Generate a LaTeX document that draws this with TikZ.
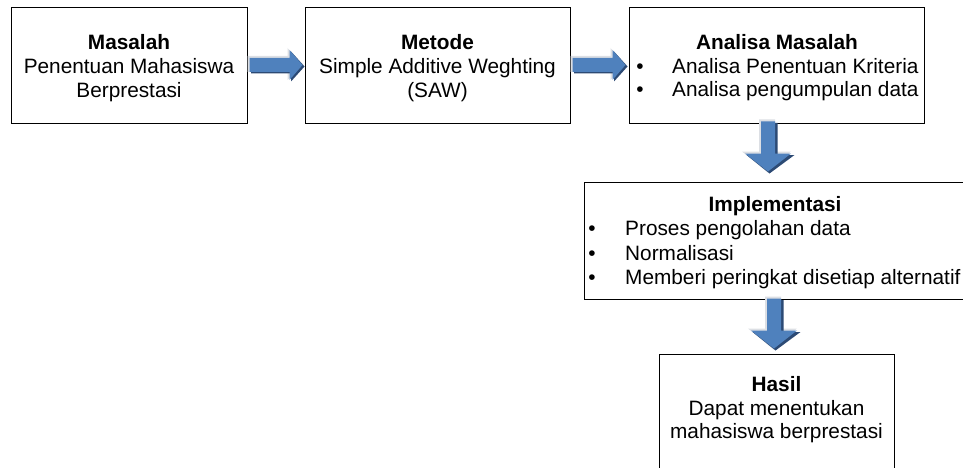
\documentclass[tikz,border=0pt]{standalone}
\usepackage{fontspec}
\setmainfont{Liberation Sans}
\definecolor{arrblue}{HTML}{4F81BD}
\definecolor{arrdark}{HTML}{2C4A74}
\definecolor{arrlight}{HTML}{DCDFE4}
\tikzset{
  x=1pt, y=-1pt,
  box/.style={draw=black, line width=1pt, fill=white},
  txt/.style={font=\fontsize{20.8}{24}\selectfont, inner sep=0pt},
  ttl/.style={font=\fontsize{20.8}{24}\selectfont\bfseries, inner sep=0pt},
  % bevelled block arrow pointing right, origin at the tail centre
  rightarrow/.pic={
    \fill[arrlight] (-2,-9) -- (38,-9) -- (38,-17) -- (54,0) -- (38,15) -- (38,7) -- (-2,7) -- cycle;
    \fill[arrdark] (1.5,-5.5) -- (41.5,-5.5) -- (41.5,-13.5) -- (55,1.5) -- (41.5,16.5) -- (41.5,8.5) -- (1.5,8.5) -- cycle;
    \fill[arrblue] (0,-7) -- (40,-7) -- (40,-15) -- (53,0) -- (40,15) -- (40,7) -- (0,7) -- cycle;
  },
  % bevelled block arrow pointing down, origin at the tail centre
  downarrow/.pic={
    \fill[arrlight] (-9,-2) -- (-9,30) -- (-26,30) -- (0,51) -- (23,30) -- (7,30) -- (7,-2) -- cycle;
    \fill[arrdark] (-5.5,1.5) -- (-5.5,33.5) -- (-21.5,33.5) -- (1.5,52) -- (26.5,33.5) -- (9.5,33.5) -- (9.5,1.5) -- cycle;
    \fill[arrblue] (-7,0) -- (-7,32) -- (-23,32) -- (0,50) -- (23,32) -- (7,32) -- (7,0) -- cycle;
  },
}
\begin{document}
\begin{tikzpicture}
\useasboundingbox (0,0) rectangle (963,468);

% boxes
\node[box, minimum width=236, minimum height=116] (masalah) at (129,66) {};
\node[box, minimum width=265, minimum height=116] (metode) at (437.5,66) {};
\node[box, minimum width=295, minimum height=116] (analisa) at (776.5,66) {};
\node[box, minimum width=382, minimum height=117] (impl) at (775,240.5) {};
\node[box, minimum width=235, minimum height=118] (hasil) at (776.5,413) {};

% box texts
\node[ttl, anchor=base] (t1a) at (129,50) {Masalah};
\node[txt, anchor=base] (t1b) at (129,74) {Penentuan Mahasiswa};
\node[txt, anchor=base] (t1c) at (129,98) {Berprestasi};

\node[ttl, anchor=base] (t2a) at (437.5,50) {Metode};
\node[txt, anchor=base] (t2b) at (437.5,74) {Simple Additive Weghting};
\node[txt, anchor=base] (t2c) at (437.5,98) {(SAW)};

\node[ttl, anchor=base] (t3a) at (777,50) {Analisa Masalah};
\node[txt, anchor=base] (b3a) at (640,74) {•};
\node[txt, anchor=base west] (t3b) at (672,74) {Analisa Penentuan Kriteria};
\node[txt, anchor=base] (b3b) at (640,97) {•};
\node[txt, anchor=base west] (t3c) at (672,97) {Analisa pengumpulan data};

\node[ttl, anchor=base] (t4a) at (775,211) {Implementasi};
\node[txt, anchor=base] (b4a) at (592,235.5) {•};
\node[txt, anchor=base west] (t4b) at (625,235.5) {Proses pengolahan data};
\node[txt, anchor=base] (b4b) at (592,260) {•};
\node[txt, anchor=base west] (t4c) at (625,260) {Normalisasi};
\node[txt, anchor=base] (b4c) at (592,284.5) {•};
\node[txt, anchor=base west] (t4d) at (625,284.5) {Memberi peringkat disetiap alternatif};

\node[ttl, anchor=base] (t5a) at (776.5,391) {Hasil};
\node[txt, anchor=base] (t5b) at (776.5,415) {Dapat menentukan};
\node[txt, anchor=base] (t5c) at (776.5,438) {mahasiswa berprestasi};

% block arrows between the boxes
\pic (a1) at ([xshift=2]masalah.east |- 0,65) {rightarrow};
\pic (a2) at ([xshift=2]metode.east |- 0,65) {rightarrow};
\pic (a3) at ([yshift=3]analisa.south -| 768,0) {downarrow};
\pic (a4) at ([yshift=1]impl.south -| 774,0) {downarrow};
\end{tikzpicture}
\end{document}
